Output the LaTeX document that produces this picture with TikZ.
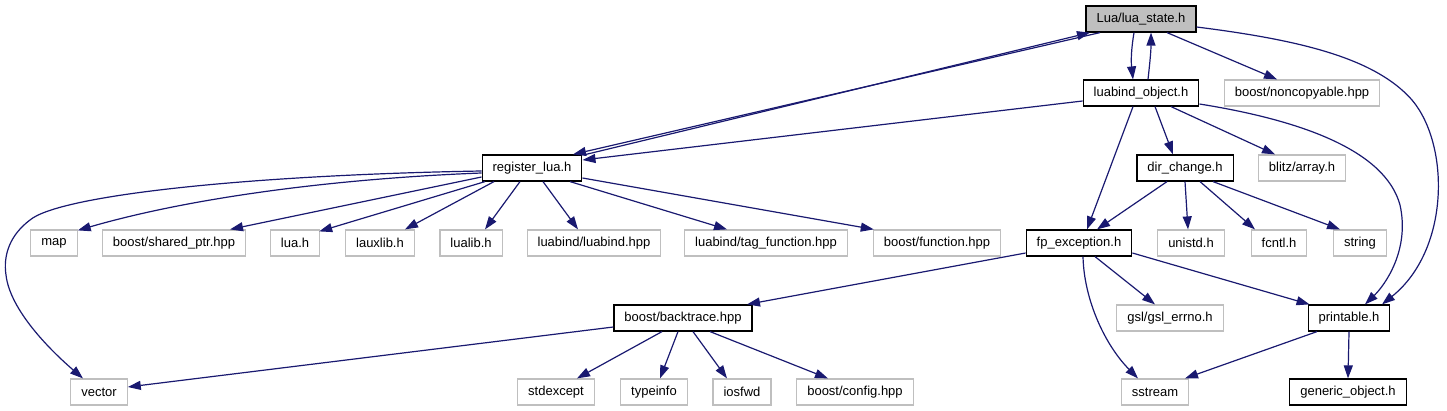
\documentclass[tikz,border=0pt]{standalone}
\usepackage{fontspec}
\setmainfont{Liberation Sans}
\usetikzlibrary{arrows.meta}
\definecolor{edgec}{RGB}{25,25,112}
\definecolor{greyc}{RGB}{191,191,191}
\begin{document}
\begin{tikzpicture}[x=1pt,y=-1pt,
  box/.style={rectangle, minimum height=26pt, inner xsep=10.5pt, inner ysep=0pt, font=\fontsize{13}{15}\selectfont, line width=1.2pt},
  doc/.style={box, draw=black, fill=white},
  ext/.style={box, draw=greyc, fill=white},
  cur/.style={box, draw=black, fill=greyc},
  edge/.style={draw=edgec, line width=1.2pt, -{Triangle[length=13pt,width=9pt]}},
]
\useasboundingbox (0,0) rectangle (1447,411);
% row 1
\node[cur] (ls) at (1141,19) {Lua/lua\_state.h};
% row 2
\node[doc] (lo) at (1141,93) {luabind\_object.h};
\node[ext] (nc) at (1302,93) {boost/noncopyable.hpp};
% row 3
\node[doc] (rl) at (532,168) {register\_lua.h};
\node[doc] (dc) at (1185,168) {dir\_change.h};
\node[ext] (ba) at (1302,168) {blitz/array.h};
% row 4
\node[ext] (map) at (54,243) {map};
\node[ext] (sp) at (174,243) {boost/shared\_ptr.hpp};
\node[ext] (luah) at (295,243) {lua.h};
\node[ext] (laux) at (380,243) {lauxlib.h};
\node[ext] (lualib) at (471,243) {lualib.h};
\node[ext] (lb) at (594,243) {luabind/luabind.hpp};
\node[ext] (tf) at (766,243) {luabind/tag\_function.hpp};
\node[ext] (bf) at (937,243) {boost/function.hpp};
\node[doc] (fp) at (1079,243) {fp\_exception.h};
\node[ext] (un) at (1191,243) {unistd.h};
\node[ext] (fc) at (1279,243) {fcntl.h};
\node[ext] (st) at (1360,243) {string};
% row 5
\node[doc] (bt) at (683,318) {boost/backtrace.hpp};
\node[ext] (gsl) at (1170,318) {gsl/gsl\_errno.h};
\node[doc] (pr) at (1349,318) {printable.h};
% row 6
\node[ext] (vec) at (99,392) {vector};
\node[ext] (se) at (556,392) {stdexcept};
\node[ext] (ti) at (654,392) {typeinfo};
\node[ext] (io) at (742,392) {iosfwd};
\node[ext] (bc) at (855,392) {boost/config.hpp};
\node[ext] (ss) at (1155,392) {sstream};
\node[doc] (go) at (1348,392) {generic\_object.h};

% edges from lua_state
\draw[edge] ([xshift=-7pt]ls.south) .. controls +(-3,18) and +(-2,-18) .. ([xshift=-8pt]lo.north);
\draw[edge] ([xshift=7pt]lo.north) .. controls +(2,-18) and +(0,18) .. ([xshift=10pt]ls.south);
\draw[edge] ([xshift=-41pt]ls.south) -- ([xshift=41pt]rl.north);
\draw[edge] ([xshift=54pt]rl.north) -- ([xshift=-51pt]ls.south);
\draw[edge] ([xshift=26pt]ls.south) -- ([xshift=-25pt]nc.north);
\draw[edge] ([yshift=-8pt]ls.east) .. controls (1300,40) and (1375,58) .. (1412,100)
  .. controls (1450,145) and (1450,250) .. ([xshift=33pt]pr.north);
% edges from luabind_object
\draw[edge] ([yshift=-8pt]lo.west) -- ([yshift=8pt]rl.east);
\draw[edge] ([xshift=14pt]lo.south) -- ([xshift=-12pt]dc.north);
\draw[edge] ([xshift=30pt]lo.south) -- ([xshift=-27pt]ba.north);
\draw[edge] ([xshift=-8pt]lo.south) -- ([xshift=8pt]fp.north);
\draw[edge] ([yshift=-11pt]lo.east) .. controls (1300,120) and (1385,150) .. (1400,205)
  .. controls (1410,250) and (1385,285) .. ([xshift=16pt]pr.north);
% edges from register_lua
\draw[edge] ([yshift=-3pt]rl.west) .. controls (250,175) and (60,195) .. (30,220)
  .. controls (10,235) and (3,255) .. (6,275)
  .. controls (10,310) and (50,350) .. ([xshift=-16pt]vec.north);
\draw[edge] ([yshift=-5pt]rl.west) .. controls (350,178) and (200,195) .. ([yshift=-1pt]map.north east);
\draw[edge] ([yshift=-9pt]rl.west) -- ([xshift=56pt]sp.north);
\draw[edge] ([xshift=-47pt]rl.south) -- ([xshift=-1pt,yshift=-2pt]luah.north east);
\draw[edge] ([xshift=-38pt]rl.south) -- ([xshift=25pt]laux.north);
\draw[edge] ([xshift=-12pt]rl.south) -- ([xshift=14pt]lualib.north);
\draw[edge] ([xshift=11pt]rl.south) -- ([xshift=-16pt]lb.north);
\draw[edge] ([xshift=38pt]rl.south) -- ([xshift=-39pt]tf.north);
\draw[edge] ([yshift=-10pt]rl.east) -- ([xshift=1pt]bf.north west);
% edges from dir_change
\draw[edge] ([xshift=-18pt]dc.south) -- ([xshift=18pt]fp.north);
\draw[edge] (dc.south) -- ([xshift=-3pt]un.north);
\draw[edge] ([xshift=15pt]dc.south) -- ([xshift=-24pt]fc.north);
\draw[edge] ([xshift=28pt]dc.south) -- ([xshift=-20pt]st.north);
% edges from fp_exception
\draw[edge] ([yshift=-10pt]fp.west) -- ([xshift=64pt]bt.north);
\draw[edge] ([xshift=16pt]fp.south) -- ([xshift=-15pt]gsl.north);
\draw[edge] ([yshift=-10pt]fp.east) -- ([xshift=2pt]pr.north west);
\draw[edge] ([xshift=4pt]fp.south) .. controls (1084,300) and (1105,345) .. ([xshift=-17pt]ss.north);
% edges from backtrace
\draw[edge] ([yshift=-9pt]bt.west) -- ([yshift=5pt]vec.east);
\draw[edge] ([xshift=-21pt]bt.south) -- ([xshift=21pt]se.north);
\draw[edge] ([xshift=-5pt]bt.south) -- ([xshift=6pt]ti.north);
\draw[edge] ([xshift=10pt]bt.south) -- ([xshift=-15pt]io.north);
\draw[edge] ([xshift=27pt]bt.south) -- ([xshift=-27pt]bc.north);
% edges from printable
\draw[edge] ([xshift=-32pt]pr.south) -- ([xshift=30pt]ss.north);
\draw[edge] (pr.south) -- (go.north);
\end{tikzpicture}
\end{document}
